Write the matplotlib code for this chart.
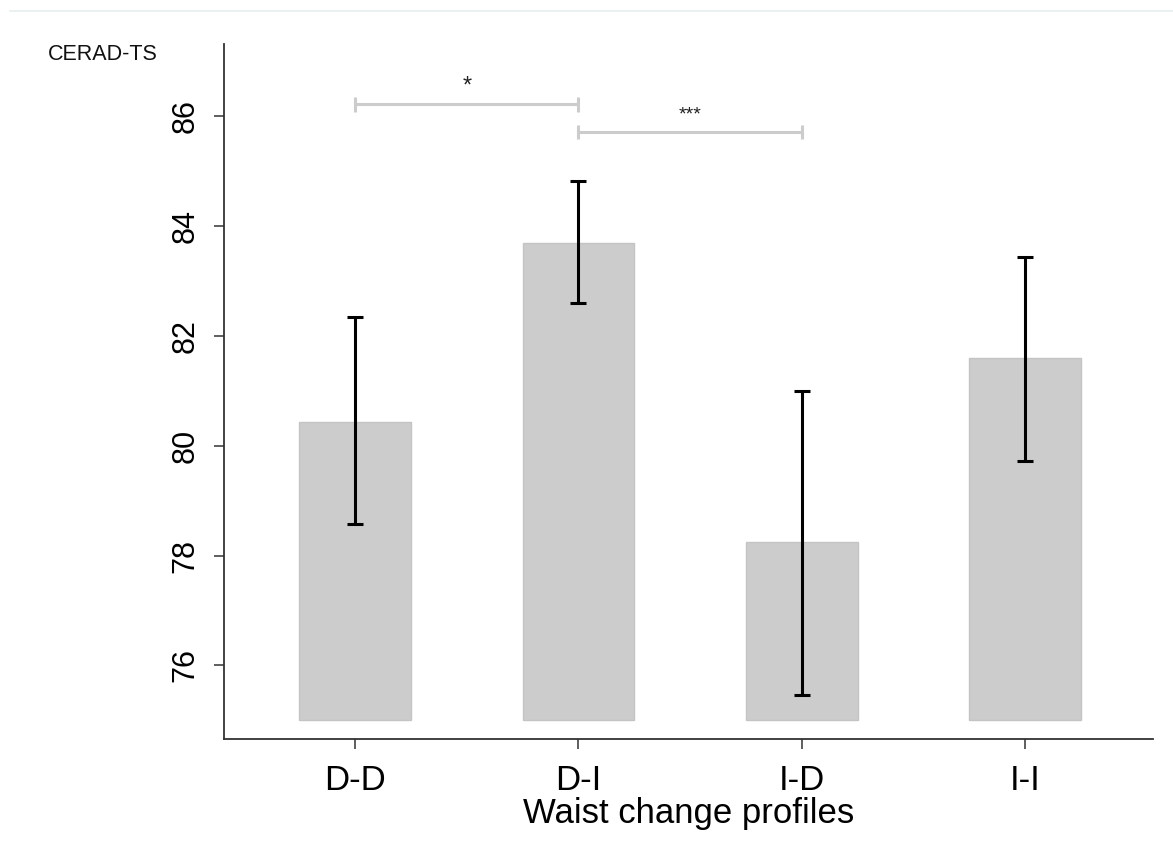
import matplotlib.pyplot as plt
from matplotlib.lines import Line2D
import numpy as np

plt.rcParams["font.family"] = ["Liberation Sans", "DejaVu Sans"]

profiles = ["D-D", "D-I", "I-D", "I-I"]
means = [80.43, 83.69, 78.24, 81.60]
ci_low = [78.58, 82.61, 75.47, 79.73]
ci_high = [82.34, 84.82, 81.00, 83.44]
bar_base = 75.0

# significance brackets: (from, to, height, label)
sig_pairs = [(0, 1, 86.22, "*"), (1, 2, 85.72, "***")]


def main():
    fig = plt.figure(figsize=(11.73, 8.58), dpi=100)
    ax = fig.add_axes([224 / 1173, 119 / 858, 929 / 1173, 695 / 858])

    x = np.arange(len(profiles))
    heights = np.array(means) - bar_base
    ax.bar(x, heights, bottom=bar_base, width=0.5, color="#cccccc",
           edgecolor="#c4c4c4", linewidth=1.0, zorder=1)

    err = [np.array(means) - np.array(ci_low), np.array(ci_high) - np.array(means)]
    ax.errorbar(x, means, yerr=err, fmt="none", ecolor="black", elinewidth=2.2,
                capsize=5.5, capthick=2.2, zorder=3)

    # significance brackets
    for a, b, h, lab in sig_pairs:
        ax.plot([a, b], [h, h], color="#cccccc", lw=2.2, solid_capstyle="butt")
        for xx in (a, b):
            ax.plot([xx, xx], [h - 0.13, h + 0.13], color="#cccccc", lw=2.2,
                    solid_capstyle="butt")
        ax.text((a + b) / 2, h + 0.22, lab, ha="center", va="baseline",
                fontsize=17 if lab == "*" else 14, color="#222222")

    ax.set_xlim(-0.587, 3.573)
    ax.set_ylim(74.66, 87.32)
    ax.set_yticks([76, 78, 80, 82, 84, 86])
    ax.set_xticks(x)
    ax.set_xticklabels(profiles)

    for side in ("top", "right"):
        ax.spines[side].set_visible(False)
    for side in ("left", "bottom"):
        ax.spines[side].set_color("#333333")
        ax.spines[side].set_linewidth(1.3)

    ax.tick_params(axis="y", length=7, width=1.1, color="#333333",
                   labelsize=22, pad=10)
    for lbl in ax.get_yticklabels():
        lbl.set_rotation(90)
        lbl.set_va("center")
    ax.tick_params(axis="x", length=7, width=1.1, color="#333333",
                   labelsize=25, pad=11)

    ax.set_xlabel("Waist change profiles", fontsize=25, labelpad=0)

    fig.text(48 / 1173, 1 - 55 / 858, "CERAD-TS", fontsize=15.5,
             ha="left", va="center", color="#111111")

    fig.add_artist(Line2D([10 / 1173, 1.0], [1 - 11 / 858, 1 - 11 / 858],
                          color="#e8eef0", lw=1.2))

    fig.savefig("out.png", dpi=100)


if __name__ == "__main__":
    main()
